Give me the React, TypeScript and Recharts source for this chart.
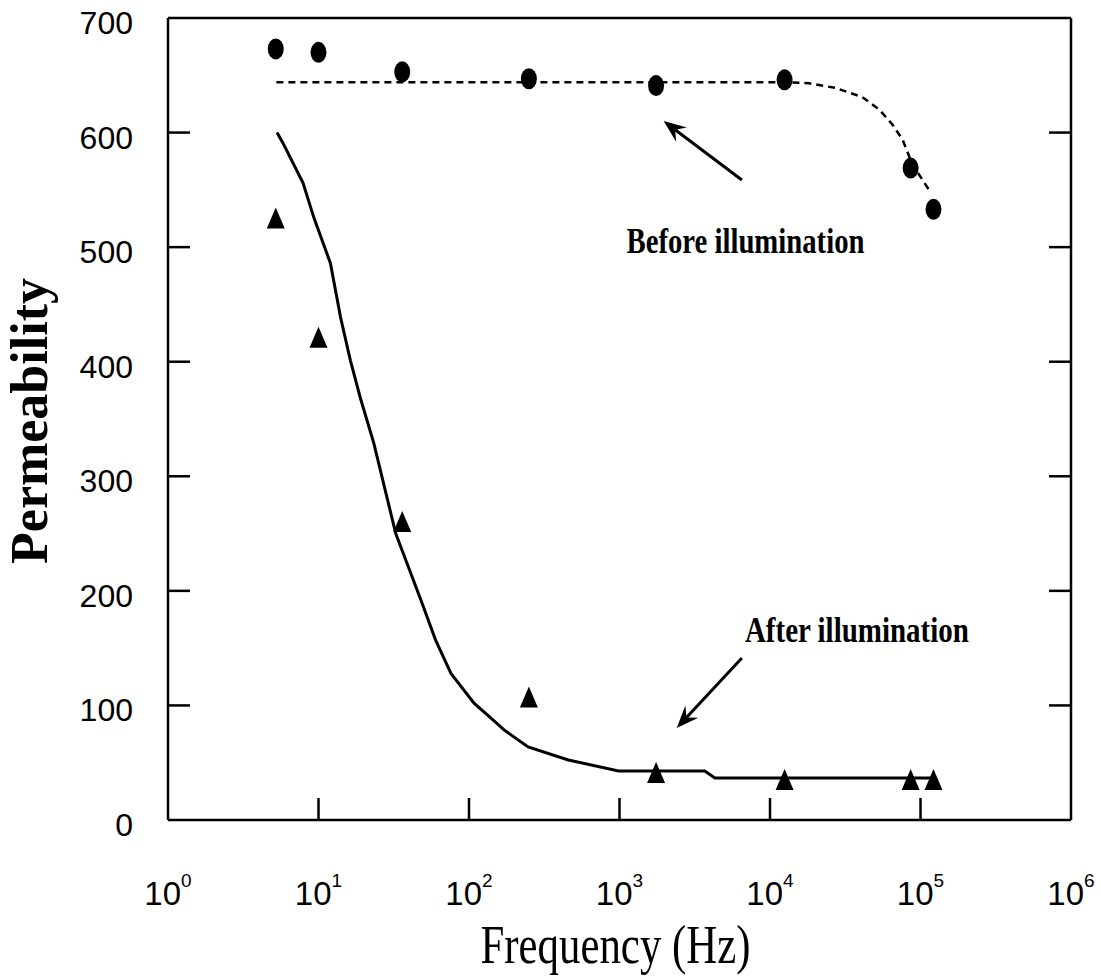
import React from 'react';
import {
  ComposedChart, Scatter, XAxis, YAxis, ReferenceLine, ReferenceDot,
} from 'recharts';

// measured points (frequency in Hz, permeability)
const freqs = [5.2, 10, 36, 250, 1750, 12500, 86000, 122000];
const beforeVals = [673, 670, 653, 647, 641, 646, 569, 533];
const afterVals = [525, 421, 260, 107, 41, 35, 35, 35];

// fitted curves
const beforeFitF = [5.25, 1000, 12600, 18200, 27100, 41000, 53300, 65000, 75900, 88500, 116600];
const beforeFitV = [644, 644, 644, 643, 639, 631, 620, 607, 594, 572, 548];
const afterFitF = [5.3, 5.8, 7.9, 9.3, 12, 14, 16.3, 19.1, 23.3, 32.6, 38, 47.9, 60, 75.9, 108, 140, 171, 247, 457, 985, 3690, 4300, 126000];
const afterFitV = [600, 591, 556, 526, 486, 439, 401, 367, 329, 250, 227, 192, 157, 128, 102, 89, 78.6, 63.7, 52.4, 42.8, 42.8, 36.7, 36.7];

const xTicks = [1, 10, 100, 1000, 10000, 100000, 1000000];
const yTicks = [0, 100, 200, 300, 400, 500, 600, 700];

const before = freqs.map((f, i) => ({ f, v: beforeVals[i] }));
const after = freqs.map((f, i) => ({ f, v: afterVals[i] }));
const beforeFit = beforeFitF.map((f, i) => ({ f, v: beforeFitV[i] }));
const afterFit = afterFitF.map((f, i) => ({ f, v: afterFitV[i] }));

const SANS = 'Liberation Sans, Arial, sans-serif';
const SERIF = 'Liberation Serif, Times New Roman, serif';
const TICK = 22;

const BottomTick = (props: any) => {
  const { x, y, payload } = props;
  const exp = Math.round(Math.log10(payload.value));
  const inner = payload.value > 1 && payload.value < 1e6;
  return (
    <g>
      {inner && <line x1={x} y1={y} x2={x} y2={y - TICK} stroke="#000" strokeWidth={2.5} />}
      <text x={x} y={y + 85} textAnchor="middle" fontFamily={SANS} fontSize={33} fill="#000">
        <tspan>10</tspan>
        <tspan dy={-18} fontSize={19}>{exp}</tspan>
      </text>
    </g>
  );
};

const TopTick = (props: any) => {
  const { x, y, payload } = props;
  if (payload.value <= 1 || payload.value >= 1e6) return <g />;
  return <line x1={x} y1={y} x2={x} y2={y + TICK} stroke="#000" strokeWidth={2.5} />;
};

const LeftTick = (props: any) => {
  const { x, y, payload } = props;
  const inner = payload.value > 0 && payload.value < 700;
  return (
    <g>
      {inner && <line x1={x} y1={y} x2={x + TICK} y2={y} stroke="#000" strokeWidth={2.5} />}
      <text x={x - 35} y={y + 16} textAnchor="end" fontFamily={SANS} fontSize={32} fill="#000">
        {payload.value}
      </text>
    </g>
  );
};

const RightTick = (props: any) => {
  const { x, y, payload } = props;
  if (payload.value <= 0 || payload.value >= 700) return <g />;
  return <line x1={x} y1={y} x2={x - TICK} y2={y} stroke="#000" strokeWidth={2.5} />;
};

const Circle = (props: any) => <ellipse cx={props.cx} cy={props.cy} rx={8} ry={10.5} fill="#000" />;
const Tri = (props: any) => {
  const { cx, cy } = props;
  return <polygon points={`${cx},${cy - 11} ${cx - 9},${cy + 10} ${cx + 9},${cy + 10}`} fill="#000" />;
};
const NoDot = () => null;

const Arrow = (props: any) => {
  const { x1, y1, x2, y2 } = props;
  const a = Math.atan2(y2 - y1, x2 - x1);
  const len = 24;
  const w = 0.38;
  const p1 = [x2 - len * Math.cos(a - w), y2 - len * Math.sin(a - w)];
  const p2 = [x2 - len * Math.cos(a + w), y2 - len * Math.sin(a + w)];
  const n = [x2 - len * 0.6 * Math.cos(a), y2 - len * 0.6 * Math.sin(a)];
  return (
    <g>
      <line x1={x1} y1={y1} x2={n[0]} y2={n[1]} stroke="#000" strokeWidth={3} />
      <polygon points={`${x2},${y2} ${p1[0]},${p1[1]} ${n[0]},${n[1]} ${p2[0]},${p2[1]}`} fill="#000" />
    </g>
  );
};

const note = (text: string, len: number) => (props: any) => (
  <text x={props.cx} y={props.cy} fontFamily={SERIF} fontWeight="bold" fontSize={36}
    textLength={len} lengthAdjust="spacingAndGlyphs" fill="#000">
    {text}
  </text>
);

const YTitle = (props: any) => {
  const vb = props.viewBox;
  const cx = vb.x + 47;
  const cy = vb.y + vb.height / 2 + 2;
  return (
    <text x={cx} y={cy} transform={`rotate(-90 ${cx} ${cy})`} textAnchor="middle"
      fontFamily={SERIF} fontWeight="bold" fontSize={52} fill="#000">
      Permeability
    </text>
  );
};

const XTitle = (props: any) => {
  const vb = props.viewBox;
  return (
    <text x={vb.x + vb.width / 2 - 4} y={vb.y + 143} textAnchor="middle" fontFamily={SERIF}
      fontSize={54} textLength={270} lengthAdjust="spacingAndGlyphs" fill="#000">
      Frequency (Hz)
    </text>
  );
};

const axisLine = { stroke: '#000', strokeWidth: 2.5 };

export default function App() {
  return (
    <div style={{ position: 'absolute', left: 0, top: 0, background: '#fff' }}>
      <ComposedChart width={1101} height={979} margin={{ top: 0, right: 0, bottom: 0, left: 0 }}>
        <XAxis xAxisId={0} dataKey="f" type="number" scale="log" domain={[1, 1e6]} ticks={xTicks}
          allowDataOverflow height={159} tickSize={0} tickMargin={0} tickLine={false}
          axisLine={axisLine} tick={<BottomTick />} interval={0}
          label={{ content: <XTitle /> }} />
        <XAxis xAxisId="top" orientation="top" type="number" scale="log" domain={[1, 1e6]} ticks={xTicks}
          allowDataOverflow height={18} tickSize={0} tickMargin={0} tickLine={false}
          axisLine={axisLine} tick={<TopTick />} interval={0} />
        <YAxis yAxisId={0} dataKey="v" type="number" domain={[0, 700]} ticks={yTicks}
          allowDataOverflow width={168} tickSize={0} tickMargin={0} tickLine={false}
          axisLine={axisLine} tick={<LeftTick />} interval={0}
          label={{ content: <YTitle /> }} />
        <YAxis yAxisId="right" orientation="right" type="number" domain={[0, 700]} ticks={yTicks}
          allowDataOverflow width={30} tickSize={0} tickMargin={0} tickLine={false}
          axisLine={axisLine} tick={<RightTick />} interval={0} />

        <Scatter data={beforeFit} line={{ stroke: '#000', strokeWidth: 2.5, strokeDasharray: '7 5' }}
          shape={NoDot} isAnimationActive={false} />
        <Scatter data={afterFit} line={{ stroke: '#000', strokeWidth: 3 }}
          shape={NoDot} isAnimationActive={false} />
        <Scatter data={before} shape={Circle} isAnimationActive={false} />
        <Scatter data={after} shape={Tri} isAnimationActive={false} />

        <ReferenceLine segment={[{ x: 6506, y: 558.6 }, { x: 1965, y: 610 }]} shape={Arrow} />
        <ReferenceLine segment={[{ x: 6506, y: 141.4 }, { x: 2399, y: 80.3 }]} shape={Arrow} />
        <ReferenceDot x={1113} y={494.9} r={1} shape={note('Before illumination', 238)} />
        <ReferenceDot x={6813} y={155.4} r={1} shape={note('After illumination', 224)} />
      </ComposedChart>
    </div>
  );
}
